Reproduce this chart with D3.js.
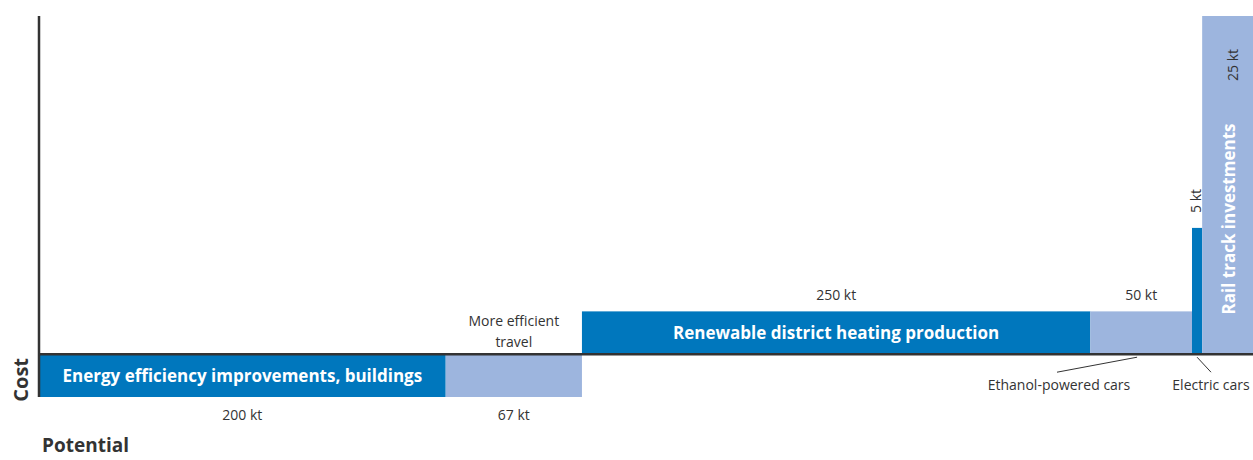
<!DOCTYPE html>
<html>
<head>
<meta charset="utf-8">
<script src="https://cdn.jsdelivr.net/npm/d3@7"></script>
<style>
  html, body { margin: 0; padding: 0; background: #fff; }
  svg { display: block; font-family: "Open Sans", "Lato", sans-serif; }
</style>
</head>
<body>
<svg id="chart" width="1253" height="460"></svg>
<script>
// Abatement measures, in order along the potential axis
const measures = [
  "Energy efficiency improvements, buildings",
  "More efficient travel",
  "Renewable district heating production",
  "Ethanol-powered cars",
  "Electric cars",
  "Rail track investments"
];
// Reduction potential of each measure (kt)
const potentials = [200, 67, 250, 50, 5, 25];
// Relative cost per unit reduced (negative = saving)
const costs = [-1, -1, 1, 1, 2.95, 7.9];
const potentialLabels = ["200 kt", "67 kt", "250 kt", "50 kt", "5 kt", "25 kt"];

const dark = "#0077bd", light = "#9db5de", ink = "#333333";

const svg = d3.select("#chart");

// Cumulative start/end of each measure along the potential axis
let acc = 0;
const rows = measures.map((name, i) => {
  const r = { name, i, x0: acc, x1: acc + potentials[i], cost: costs[i], label: potentialLabels[i] };
  acc += potentials[i];
  return r;
});

const x = d3.scaleLinear().domain([0, acc]).range([39, 1253]);
const y = d3.scaleLinear().domain([-1, 7.9]).range([397, 16]);

// Bars
svg.append("g").selectAll("rect").data(rows).join("rect")
  .attr("x", d => x(d.x0))
  .attr("width", d => x(d.x1) - x(d.x0))
  .attr("y", d => y(Math.max(0, d.cost)))
  .attr("height", d => Math.abs(y(d.cost) - y(0)))
  .attr("fill", d => d.i % 2 === 0 ? dark : light);

// Axes: vertical cost axis and the zero line
svg.append("line")
  .attr("x1", 39).attr("x2", 39).attr("y1", y(7.9)).attr("y2", y(-1))
  .attr("stroke", ink).attr("stroke-width", 2.5);
svg.append("line")
  .attr("x1", 38).attr("x2", 1253).attr("y1", y(0)).attr("y2", y(0))
  .attr("stroke", ink).attr("stroke-width", 2.5);

const cx = d => (x(d.x0) + x(d.x1)) / 2;

// Axis titles
svg.append("text")
  .attr("transform", `translate(28,${y(-0.6)}) rotate(-90)`)
  .attr("text-anchor", "middle")
  .attr("font-size", 20).attr("font-weight", 700).attr("fill", ink)
  .text("Cost");
svg.append("text")
  .attr("x", 42).attr("y", 452)
  .attr("font-size", 19).attr("font-weight", 700).attr("fill", ink)
  .text("Potential");

const [r0, r1, r2, r3, r4, r5] = rows;

// Energy efficiency (negative cost)
svg.append("text")
  .attr("x", cx(r0)).attr("y", y(r0.cost / 2) + 6)
  .attr("text-anchor", "middle").attr("font-size", 17).attr("font-weight", 700).attr("fill", "#fff")
  .text(r0.name);
svg.append("text")
  .attr("x", cx(r0)).attr("y", y(r0.cost) + 23)
  .attr("text-anchor", "middle").attr("font-size", 14).attr("fill", ink)
  .text(r0.label);

// More efficient travel
svg.append("text")
  .attr("x", cx(r1)).attr("y", y(r1.cost) + 23)
  .attr("text-anchor", "middle").attr("font-size", 14).attr("fill", ink)
  .text(r1.label);
const travel = svg.append("text")
  .attr("text-anchor", "middle").attr("font-size", 14).attr("fill", ink);
travel.append("tspan").attr("x", cx(r1)).attr("y", y(0) - 28).text("More efficient");
travel.append("tspan").attr("x", cx(r1)).attr("y", y(0) - 7).text("travel");

// Renewable district heating
svg.append("text")
  .attr("x", cx(r2)).attr("y", y(r2.cost / 2) + 6)
  .attr("text-anchor", "middle").attr("font-size", 17).attr("font-weight", 700).attr("fill", "#fff")
  .text(r2.name);
svg.append("text")
  .attr("x", cx(r2)).attr("y", y(r2.cost) - 11)
  .attr("text-anchor", "middle").attr("font-size", 14).attr("fill", ink)
  .text(r2.label);

// Ethanol-powered cars
svg.append("text")
  .attr("x", cx(r3)).attr("y", y(r3.cost) - 11)
  .attr("text-anchor", "middle").attr("font-size", 14).attr("fill", ink)
  .text(r3.label);
svg.append("line")
  .attr("x1", x(r3.x0 + 23)).attr("y1", y(0) + 3)
  .attr("x2", 1057).attr("y2", y(0) + 18)
  .attr("stroke", ink).attr("stroke-width", 1);
svg.append("text")
  .attr("x", 1059).attr("y", y(0) + 36)
  .attr("text-anchor", "middle").attr("font-size", 14).attr("fill", ink)
  .text(r3.name);

// Electric cars
svg.append("text")
  .attr("transform", `translate(${x(r4.x1) - 1},${y(r4.cost) - 27}) rotate(-90)`)
  .attr("text-anchor", "middle").attr("font-size", 14).attr("fill", ink)
  .text(r4.label);
svg.append("line")
  .attr("x1", cx(r4)).attr("y1", y(0) + 3)
  .attr("x2", 1211).attr("y2", y(0) + 18)
  .attr("stroke", ink).attr("stroke-width", 1);
svg.append("text")
  .attr("x", 1211).attr("y", y(0) + 36)
  .attr("text-anchor", "middle").attr("font-size", 14).attr("fill", ink)
  .text(r4.name);

// Rail track investments
svg.append("text")
  .attr("transform", `translate(${cx(r5) + 7},${y(r5.cost) + 203}) rotate(-90)`)
  .attr("text-anchor", "middle").attr("font-size", 17).attr("font-weight", 700).attr("fill", "#fff")
  .text(r5.name);
svg.append("text")
  .attr("transform", `translate(${cx(r5) + 10},${y(r5.cost) + 49}) rotate(-90)`)
  .attr("text-anchor", "middle").attr("font-size", 14).attr("fill", ink)
  .text(r5.label);
</script>
</body>
</html>
